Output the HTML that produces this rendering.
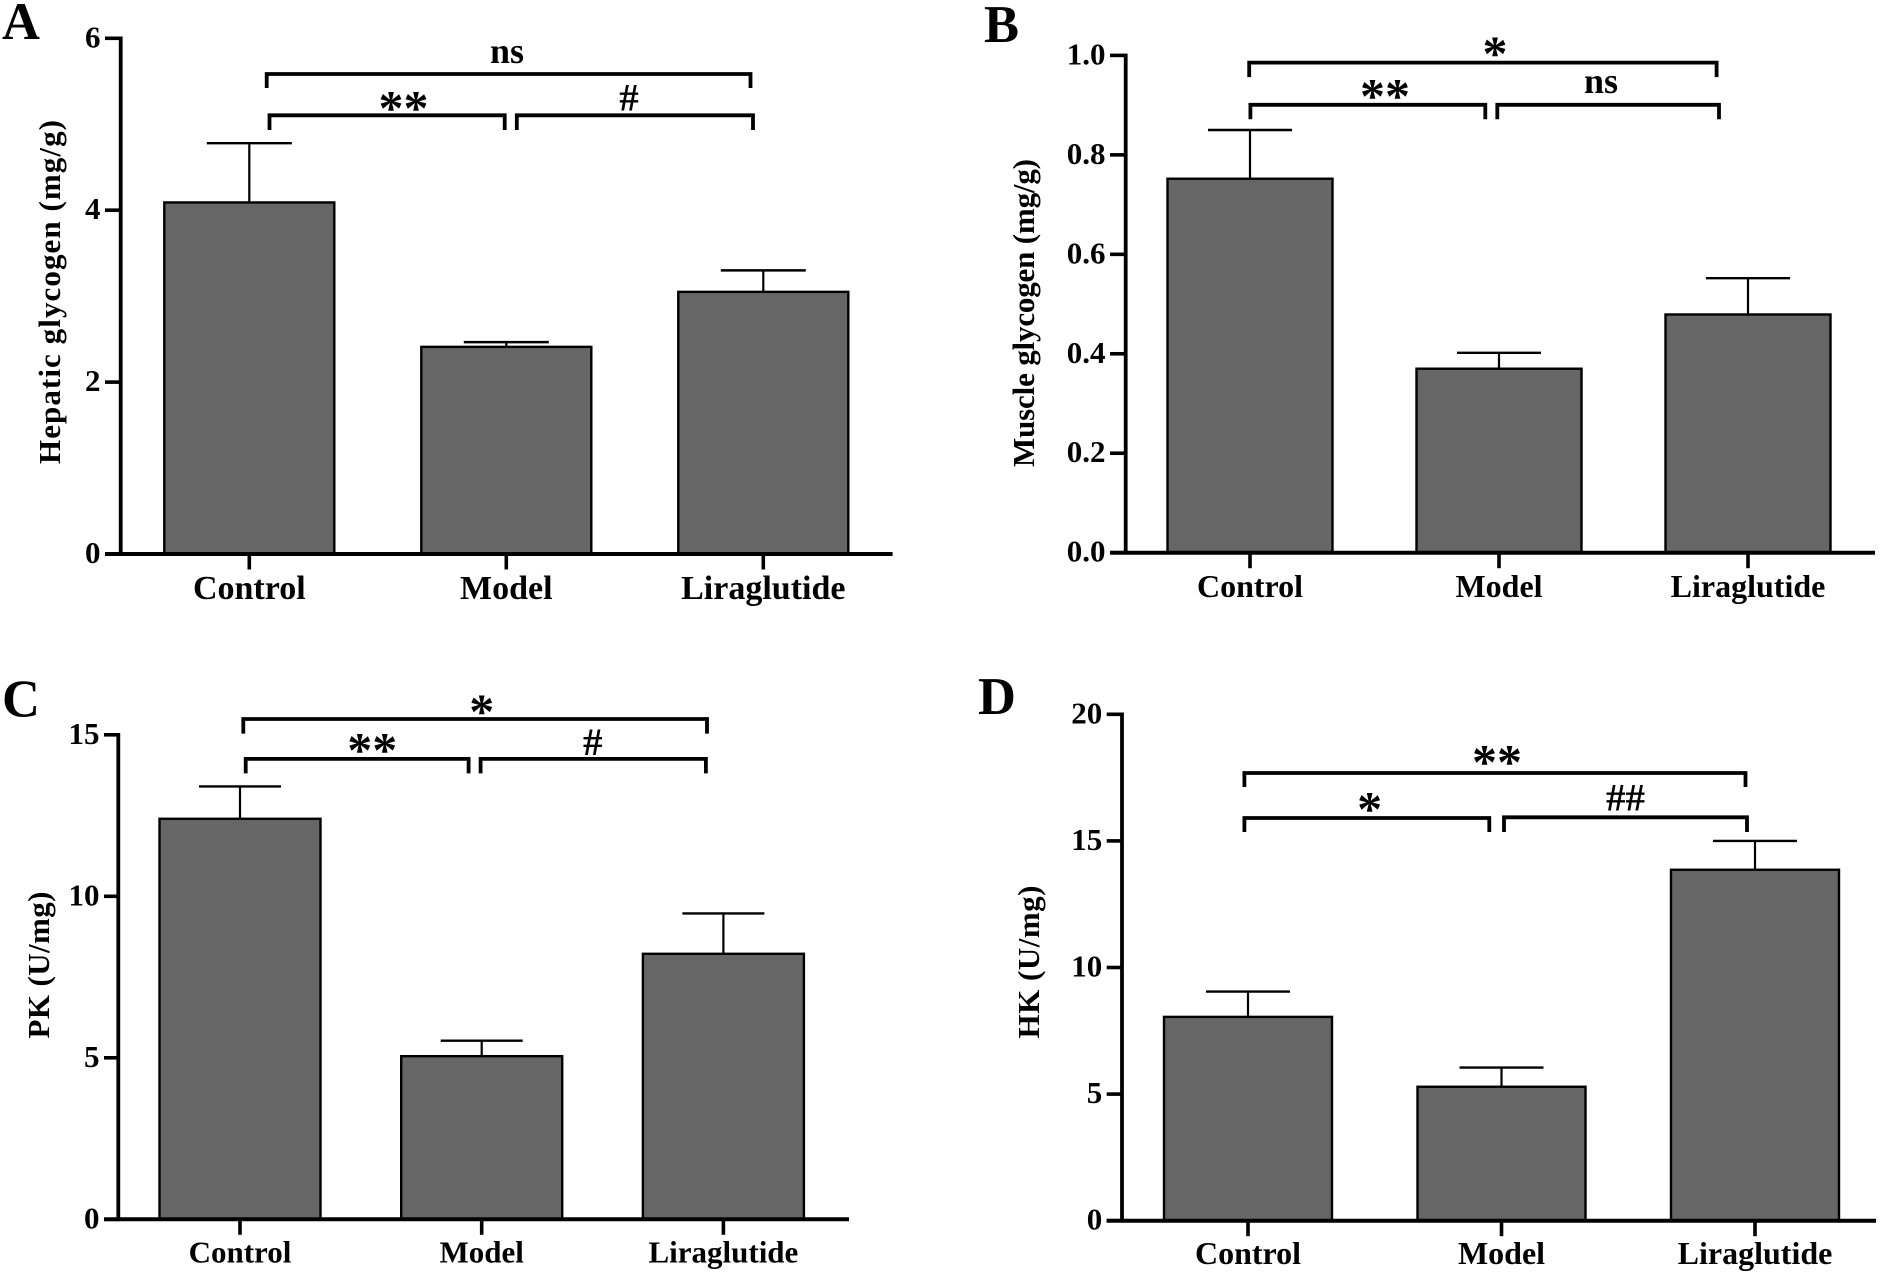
<!DOCTYPE html>
<html lang="en">
<head>
<meta charset="utf-8">
<title>Glycogen and enzyme activity bar charts</title>
<style>
  html, body { margin: 0; padding: 0; background: #fff; }
  body { width: 1890px; height: 1275px; overflow: hidden; }
  svg { display: block; }
  text { font-family: "Liberation Serif", serif; font-weight: bold; fill: #000; }
</style>
</head>
<body>
<svg id="figure" xmlns="http://www.w3.org/2000/svg" width="1890" height="1275" viewBox="0 0 1890 1275"></svg>
<script>
// Chart data
const categories = ["Control", "Model", "Liraglutide"];

const hepaticValues = [4.09, 2.41, 3.05];
const hepaticErrorTops = [4.78, 2.465, 3.30];
const hepaticTicks = ["0", "2", "4", "6"];

const muscleValues = [0.752, 0.370, 0.479];
const muscleErrorTops = [0.850, 0.402, 0.552];
const muscleTicks = ["0.0", "0.2", "0.4", "0.6", "0.8", "1.0"];

const pkValues = [12.4, 5.05, 8.22];
const pkErrorTops = [13.4, 5.53, 9.47];
const pkTicks = ["0", "5", "10", "15"];

const hkValues = [8.05, 5.29, 13.86];
const hkErrorTops = [9.05, 6.05, 15.0];
const hkTicks = ["0", "5", "10", "15", "20"];

// Panel layout
const panels = [
  { id: "a", letter: "A", letterX: 2, letterY: 39, title: "Hepatic glycogen (mg/g)", titleX: 60, titleMid: 292, titleLen: 344,
    values: hepaticValues, tops: hepaticErrorTops, ticks: hepaticTicks,
    axisX: 120.7, yBase: 554, yTop: 38.3, xLeft: 105, xRight: 892.6, firstCat: 249.3, step: 257, barW: 170, capW: 85, labelSize: 34, labelY: 599,
    brackets: [[266.7, 750.5, 74, 88], [269.5, 504.7, 115.3, 130], [516.8, 753, 115.3, 130]],
    notes: [["ns", 507, 63, 36], ["**", 403.5, 124.5, 50], ["#", 629, 110.5, 39]] },
  { id: "b", letter: "B", letterX: 984, letterY: 42, title: "Muscle glycogen (mg/g)", titleX: 1034, titleMid: 313, titleLen: 308,
    values: muscleValues, tops: muscleErrorTops, ticks: muscleTicks,
    axisX: 1125.7, yBase: 552.7, yTop: 55.4, xLeft: 1110, xRight: 1875, firstCat: 1250, step: 249, barW: 165, capW: 84, labelSize: 32, labelY: 597,
    brackets: [[1249.2, 1716.6, 62.6, 77.1], [1250.4, 1485.3, 104.8, 119.3], [1497.3, 1719, 104.8, 119.3]],
    notes: [["*", 1495, 70, 50], ["**", 1385, 112.3, 50], ["ns", 1601, 92.8, 36]] },
  { id: "c", letter: "C", letterX: 2, letterY: 716.7, title: "PK (U/mg)", titleX: 49, titleMid: 965, titleLen: 147,
    values: pkValues, tops: pkErrorTops, ticks: pkTicks,
    axisX: 118.3, yBase: 1219.3, yTop: 734.8, xLeft: 104, xRight: 849, firstCat: 240, step: 241.7, barW: 161, capW: 82, labelSize: 31, labelY: 1262.7,
    brackets: [[243.3, 707, 719, 733.6], [245.7, 468.6, 758.9, 773.4], [480.6, 705.9, 758.9, 773.4]],
    notes: [["*", 481.8, 728, 50], ["**", 372.2, 766.4, 50], ["#", 592.7, 754.8, 39]] },
  { id: "d", letter: "D", letterX: 978, letterY: 714, title: "HK (U/mg)", titleX: 1039, titleMid: 962, titleLen: 153,
    values: hkValues, tops: hkErrorTops, ticks: hkTicks,
    axisX: 1122, yBase: 1220.7, yTop: 714.3, xLeft: 1106.7, xRight: 1876, firstCat: 1248, step: 253.5, barW: 168, capW: 84, labelSize: 32, labelY: 1264,
    brackets: [[1244.4, 1745.5, 773, 787], [1244.4, 1489.3, 818, 832], [1504, 1747, 817.3, 832]],
    notes: [["**", 1497, 778.7, 50], ["*", 1369.6, 825.5, 50], ["##", 1625.5, 810.7, 39]] }
];

const svgNS = "http://www.w3.org/2000/svg";
const figure = document.getElementById("figure");

function make(tag, parent, attrs, content) {
  const el = document.createElementNS(svgNS, tag);
  for (const key in attrs) el.setAttribute(key, attrs[key]);
  if (content !== undefined) el.textContent = content;
  parent.appendChild(el);
  return el;
}

panels.forEach(function (p) {
  const yMax = parseFloat(p.ticks[p.ticks.length - 1]);
  const yScale = function (v) { return p.yBase - (v / yMax) * (p.yBase - p.yTop); };
  const xScale = function (i) { return p.firstCat + i * p.step; };

  const group = make("g", figure, {});
  
  

  const letter = make("text", group, { x: p.letterX, y: p.letterY, "font-size": 52.5 }, p.letter);
  
  

  const title = make("text", group, {
    x: p.titleX, y: p.titleMid, "font-size": 31, "text-anchor": "middle",
    textLength: p.titleLen, lengthAdjust: "spacing",
    transform: "rotate(-90 " + p.titleX + " " + p.titleMid + ")"
  }, p.title);
  
  

  // Bars and error bars
  p.values.forEach(function (v, i) {
    const cx = xScale(i);
    const stem = make("line", group, { x1: cx, x2: cx, y1: yScale(v), y2: yScale(p.tops[i]), stroke: "#000", "stroke-width": 2.2 });
    
    

    const cap = make("line", group, { x1: cx - p.capW / 2, x2: cx + p.capW / 2, y1: yScale(p.tops[i]), y2: yScale(p.tops[i]), stroke: "#000", "stroke-width": 2.4 });
    
    

    const bar = make("rect", group, { x: cx - p.barW / 2, y: yScale(v), width: p.barW, height: p.yBase - yScale(v), fill: "#666666", stroke: "#000", "stroke-width": 2.4 });
    
    

    const tick = make("line", group, { x1: cx, x2: cx, y1: p.yBase, y2: p.yBase + 15.5, stroke: "#000", "stroke-width": 3.6 });
    
    

    const label = make("text", group, { x: cx, y: p.labelY, "font-size": p.labelSize, "text-anchor": "middle" }, categories[i]);
    
    
  });

  // Axes
  const yAxis = make("line", group, { x1: p.axisX, x2: p.axisX, y1: p.yTop - 1.8, y2: p.yBase + 1.8, stroke: "#000", "stroke-width": 3.8 });
  
  

  const xAxis = make("line", group, { x1: p.xLeft, x2: p.xRight, y1: p.yBase, y2: p.yBase, stroke: "#000", "stroke-width": 4 });
  
  

  p.ticks.forEach(function (t) {
    const y = yScale(parseFloat(t));
    const tick = make("line", group, { x1: p.xLeft, x2: p.axisX, y1: y, y2: y, stroke: "#000", "stroke-width": 3.6 });
    
    

    const label = make("text", group, { x: p.xLeft - 4.5, y: y + 9, "font-size": 31, "text-anchor": "end" }, t);
    
    
  });

  // Significance brackets
  p.brackets.forEach(function (b) {
    const bracket = make("path", group, { d: "M" + b[0] + " " + b[3] + "V" + b[2] + "H" + b[1] + "V" + b[3], fill: "none", stroke: "#000", "stroke-width": 3.8 });
    
    
  });

  p.notes.forEach(function (n) {
    const note = make("text", group, { x: n[1], y: n[2], "font-size": n[3], "text-anchor": "middle" }, n[0]);
    
    
  });
});
</script>
</body>
</html>
